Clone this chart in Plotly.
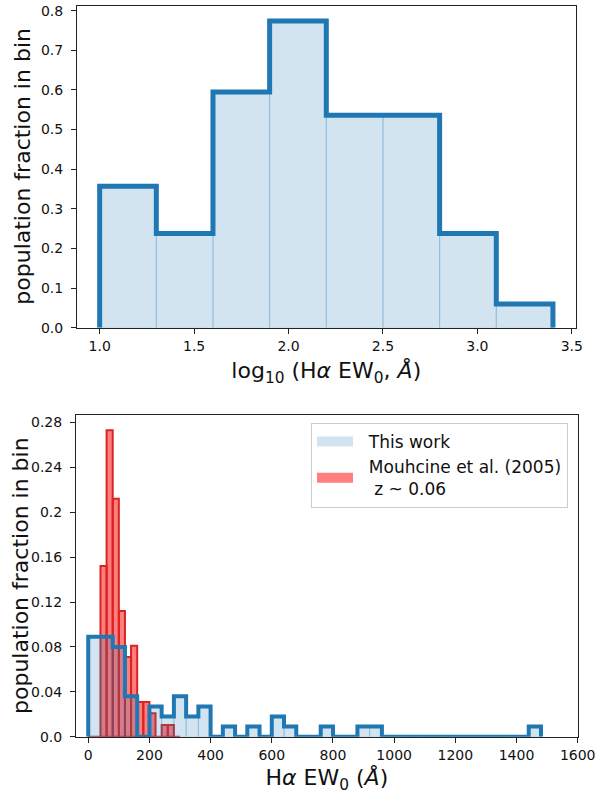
import plotly.graph_objects as go

# ---------------- data ----------------
# top panel: log10(Halpha EW0) histogram (density)
top_edges = [1.0, 1.3, 1.6, 1.9, 2.2, 2.5, 2.8, 3.1, 3.4]
top_fraction = [0.357, 0.238, 0.595, 0.774, 0.536, 0.536, 0.238, 0.060]

# bottom panel: This work, Halpha EW0 bins of 40 A
this_work_edges = list(range(0, 1481, 40))
this_work_fraction = [0.089, 0.089, 0.080, 0.036, 0.0, 0.027, 0.018, 0.036,
                      0.018, 0.027, 0.0, 0.009, 0.0, 0.009, 0.0, 0.018,
                      0.009, 0.0, 0.0, 0.009, 0.0, 0.0, 0.009, 0.009,
                      0.0, 0.0, 0.0, 0.0, 0.0, 0.0, 0.0, 0.0,
                      0.0, 0.0, 0.0, 0.0, 0.009]

# bottom panel: Mouhcine et al. (2005), bins of 20 A
mouhcine_edges = list(range(0, 301, 20))
mouhcine_fraction = [0.0, 0.0, 0.152, 0.273, 0.212, 0.112, 0.071, 0.081,
                     0.031, 0.031, 0.021, 0.0, 0.0104, 0.0104, 0.0]

top_xticks = [1.0, 1.5, 2.0, 2.5, 3.0, 3.5]
top_yticks = [0.0, 0.1, 0.2, 0.3, 0.4, 0.5, 0.6, 0.7, 0.8]
bot_xticks = [0, 200, 400, 600, 800, 1000, 1200, 1400, 1600]
bot_yticks = [0.0, 0.04, 0.08, 0.12, 0.16, 0.2, 0.24, 0.28]
bot_yticktext = ["0.0", "0.04", "0.08", "0.12", "0.16", "0.2", "0.24", "0.28"]

BLUE = "#1f77b4"
BLUE_FILL = "rgba(31,119,180,0.2)"
BLUE_EDGE = "rgba(31,119,180,0.22)"
RED_FILL = "rgba(255,0,0,0.5)"
RED_EDGE = "rgb(218,36,36)"
FONT = "DejaVu Sans"


def step_outline(edges, heights):
    xs = [edges[0]] + list(edges[:-1]) + [edges[-1]]
    ys = [0] + list(heights) + [0]
    return xs, ys


def widths(edges):
    return [edges[i + 1] - edges[i] for i in range(len(edges) - 1)]


fig = go.Figure()

# ---- top panel ----
fig.add_trace(go.Bar(
    x=top_edges[:-1], y=top_fraction, width=widths(top_edges), offset=0,
    marker=dict(color=BLUE_FILL, line=dict(color=BLUE_EDGE, width=1)),
    xaxis="x", yaxis="y", showlegend=False, hoverinfo="skip"))
tx, ty = step_outline(top_edges, top_fraction)
fig.add_trace(go.Scatter(
    x=tx, y=ty, mode="lines", line=dict(color=BLUE, width=5, shape="hv"),
    xaxis="x", yaxis="y", showlegend=False, hoverinfo="skip"))

# ---- bottom panel ----
fig.add_trace(go.Bar(
    x=mouhcine_edges[:-1], y=mouhcine_fraction, width=widths(mouhcine_edges), offset=0,
    marker=dict(color=RED_FILL, line=dict(color=RED_EDGE, width=2)),
    xaxis="x2", yaxis="y2", showlegend=False, hoverinfo="skip"))
fig.add_trace(go.Bar(
    x=this_work_edges[:-1], y=this_work_fraction, width=widths(this_work_edges), offset=0,
    marker=dict(color=BLUE_FILL, line=dict(color=BLUE_EDGE, width=1)),
    xaxis="x2", yaxis="y2", showlegend=False, hoverinfo="skip"))
bx, by = step_outline(this_work_edges, this_work_fraction)
fig.add_trace(go.Scatter(
    x=bx, y=by, mode="lines", line=dict(color=BLUE, width=4, shape="hv"),
    xaxis="x2", yaxis="y2", showlegend=False, hoverinfo="skip"))

# legend entries (patch-like swatches)
fig.add_trace(go.Scatter(
    x=[None], y=[None], name="&nbsp;&nbsp;This work", mode="lines",
    line=dict(color="rgba(31,119,180,0.2)", width=12),
    xaxis="x2", yaxis="y2", showlegend=True))
fig.add_trace(go.Scatter(
    x=[None], y=[None],
    name="&nbsp;&nbsp;Mouhcine et al. (2005)<br>&nbsp;&nbsp;&nbsp;z ~ 0.06", mode="lines",
    line=dict(color=RED_FILL, width=12),
    xaxis="x2", yaxis="y2", showlegend=True))

axis_common = dict(
    showline=True, linecolor="#222", linewidth=1, mirror=True,
    ticks="outside", ticklen=5, tickwidth=1, tickcolor="#222",
    showgrid=False, zeroline=False, automargin=False,
    tickfont=dict(family=FONT, size=14, color="#111"),
)

title_font = dict(family=FONT, size=22, color="#111")

fig.update_layout(
    template="none",
    width=598, height=794,
    margin=dict(l=0, r=0, t=0, b=0, pad=0),
    paper_bgcolor="white", plot_bgcolor="white",
    barmode="overlay",
    font=dict(family=FONT, color="#111"),
    xaxis=dict(domain=[77 / 598, 575.6 / 598], anchor="y", range=[0.88, 3.52],
               tickvals=top_xticks, ticktext=[f"{v:.1f}" for v in top_xticks],
               title=dict(text="log<sub>10</sub> (H<i>α</i> EW<sub>0</sub>, <i>Å</i>)",
                          font=title_font, standoff=10),
               **axis_common),
    yaxis=dict(domain=[1 - 327.7 / 794, 1 - 5.7 / 794], anchor="x", range=[0, 0.8127],
               tickvals=top_yticks, ticktext=[f"{v:.1f}" for v in top_yticks],
               ticklabelstandoff=5,
               **axis_common),
    xaxis2=dict(domain=[76 / 598, 577.7 / 598], anchor="y2", range=[-40, 1600],
                tickvals=bot_xticks, ticktext=[str(v) for v in bot_xticks],
                title=dict(text="H<i>α</i> EW<sub>0</sub> (<i>Å</i>)",
                           font=title_font, standoff=8),
                **axis_common),
    yaxis2=dict(domain=[1 - 736.7 / 794, 1 - 415 / 794], anchor="x2", range=[0, 0.2866],
                tickvals=bot_yticks, ticktext=bot_yticktext,
                ticklabelstandoff=5,
                **axis_common),
    legend=dict(x=568 / 598, y=1 - 423 / 794, xanchor="right", yanchor="top",
                xref="paper", yref="paper",
                bgcolor="white", bordercolor="#cccccc", borderwidth=1,
                font=dict(family=FONT, size=17, color="#111"),
                itemwidth=36, tracegroupgap=0),
    annotations=[
        dict(text="population fraction in bin", textangle=-90,
             x=23 / 598, y=1 - 166.7 / 794, xref="paper", yref="paper",
             xanchor="center", yanchor="middle", showarrow=False, font=title_font),
        dict(text="population fraction in bin", textangle=-90,
             x=20 / 598, y=1 - 576 / 794, xref="paper", yref="paper",
             xanchor="center", yanchor="middle", showarrow=False, font=title_font),
    ],
)

fig.write_html("out.html")
